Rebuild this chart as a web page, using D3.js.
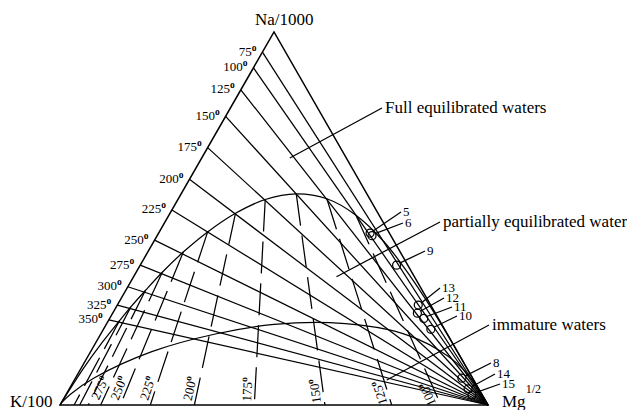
<!DOCTYPE html>
<html>
<head>
<meta charset="utf-8">
<script src="https://cdn.jsdelivr.net/npm/d3@7"></script>
<style>
  body { margin: 0; background: #fff; }
  svg { display: block; }
  text { font-family: "Liberation Serif", "Times New Roman", serif; fill: #000; }
</style>
</head>
<body>
<div id="chart"></div>
<script>
// Giggenbach Na-K-Mg ternary diagram. Coordinates are percentages of
// Na/1000 (top), K/100 (bottom left) and Mg^1/2 (bottom right); K = 100 - Na - Mg.

// Na-K isotherms: lines from the K-Na side to the Mg corner
const naKTemps = [75, 100, 125, 150, 175, 200, 225, 250, 275, 300, 325, 350];
const naKSideNa = [94.6, 90.4, 84.5, 77.4, 69.0, 60.5, 52.3, 44.2, 37.5, 31.7, 26.8, 22.8];

// full equilibrium curve, K corner to Mg corner (temperature where it meets the isotherms)
const fullEqTemps = [null, 500, 400, 350, 325, 300, 275, 250, 225, 200, 175, 150, 125, 100, 75, 50, 25, 0, null, null, null];
const fullEqNa = [0, 10.0, 16.9, 22.6, 26.3, 30.7, 35.6, 41.0, 46.4, 51.4, 55.1, 56.6, 55.3, 50.9, 43.7, 34.5, 24.7, 15.6, 7.7, 3.5, 0];
const fullEqMg = [0, 0.6, 1.5, 2.6, 3.4, 4.6, 6.1, 8.3, 11.3, 15.3, 20.4, 26.9, 34.7, 43.7, 53.9, 64.6, 75.1, 84.4, 92.3, 96.5, 100];

// immature waters boundary
const immatureNa = [0, 0.7, 2.9, 7.3, 14.3, 19.1, 21.6, 22.1, 20.2, 17.6, 14.7, 11.3, 7.2, 4.1, 0];
const immatureMg = [0, 0.1, 1.0, 4.4, 14.3, 27.0, 39.2, 51.9, 66.6, 74.9, 81.2, 87.0, 92.4, 95.8, 100];

// K-Mg isotherms: dashed, from the full equilibrium curve down to the K-Mg side
const kMgTemps = [100, 125, 150, 175, 200, 225, 250, 275, 300, 325, 350];
const kMgBaseMg = [89.0, 77.5, 61.9, 45.4, 31.4, 21.1, 14.1, 9.5, 6.6, 4.6, 3.3];
const kMgLabelled = [100, 125, 150, 175, 200, 225, 250, 275];

// water samples
const sampleIds = ["5", "6", "9", "13", "12", "11", "10", "8", "14", "15"];
const sampleNa = [46.1, 45.4, 37.5, 26.8, 24.6, 23.2, 20.3, 7.2, 4.3, 2.7];
const sampleMg = [49.4, 50.2, 59.9, 70.3, 71.2, 73.4, 76.5, 90.3, 93.2, 94.9];

// field annotations: where the leader starts (Na%, Mg%)
const fieldNames = ["Full equilibrated waters", "partially equilibrated water", "immature waters"];
const fieldNa = [66.2, 34.4, 6.7];
const fieldMg = [20.6, 47.4, 73.0];

// ---- layout ----
const W = 627, H = 410;
const sampleLabelPos = [[403, 216], [405, 227], [427, 255], [442, 292], [446, 302], [454, 311], [459, 320], [493, 367], [497, 378], [502, 388]];
const fieldLabelPos = [[385, 113], [443, 227], [492, 330]];

const svg = d3.select("#chart").append("svg")
  .attr("width", W)
  .attr("height", H);

const x = d3.scaleLinear().domain([0, 100]).range([60, 488]);
const y = d3.scaleLinear().domain([0, 100]).range([405, 32]);
const px = (na, mg) => x(mg + na / 2);
const py = na => y(na);

const line = d3.line().x(d => px(d[0], d[1])).y(d => py(d[0]));
const curve = d3.line().x(d => px(d[0], d[1])).y(d => py(d[0])).curve(d3.curveCatmullRom.alpha(0.5));

const ink = svg.append("g")
  .attr("fill", "none")
  .attr("stroke", "#000")
  .attr("stroke-width", 1.25);

// Na-K isotherms
ink.selectAll(".nak")
  .data(naKSideNa)
  .enter().append("path")
  .attr("d", d => line([[d, 0], [0, 100]]));

// K-Mg isotherms (dashed)
const fullEqAt = t => {
  const i = fullEqTemps.indexOf(t);
  return [fullEqNa[i], fullEqMg[i]];
};
ink.selectAll(".kmg")
  .data(kMgTemps)
  .enter().append("path")
  .attr("stroke-dasharray", "32,10")
  .attr("d", (t, i) => line([fullEqAt(t), [0, kMgBaseMg[i]]]));

// curves
ink.append("path")
  .attr("d", curve(fullEqNa.map((d, i) => [d, fullEqMg[i]])));
ink.append("path")
  .attr("d", curve(immatureNa.map((d, i) => [d, immatureMg[i]])));

// triangle frame
ink.append("path")
  .attr("stroke-width", 1.5)
  .attr("d", line([[0, 0], [100, 0], [0, 100], [0, 0]]) + "Z");

// samples
ink.selectAll("circle")
  .data(sampleNa)
  .enter().append("circle")
  .attr("r", 4)
  .attr("cx", (d, i) => px(d, sampleMg[i]))
  .attr("cy", d => py(d));

ink.selectAll(".lead")
  .data(sampleNa)
  .enter().append("line")
  .attr("x1", (d, i) => px(d, sampleMg[i]) + 3)
  .attr("y1", d => py(d) - 2)
  .attr("x2", (d, i) => sampleLabelPos[i][0] - 2)
  .attr("y2", (d, i) => sampleLabelPos[i][1] - 4);

svg.append("g").selectAll("text")
  .data(sampleIds)
  .enter().append("text")
  .attr("font-size", 13)
  .attr("x", (d, i) => sampleLabelPos[i][0])
  .attr("y", (d, i) => sampleLabelPos[i][1])
  .text(d => d);

// field annotations
ink.selectAll(".field")
  .data(fieldNa)
  .enter().append("line")
  .attr("x1", (d, i) => px(d, fieldMg[i]))
  .attr("y1", d => py(d))
  .attr("x2", (d, i) => fieldLabelPos[i][0] - 3)
  .attr("y2", (d, i) => fieldLabelPos[i][1] - 5);

svg.append("g").selectAll("text")
  .data(fieldNames)
  .enter().append("text")
  .attr("font-size", 17)
  .attr("x", (d, i) => fieldLabelPos[i][0])
  .attr("y", (d, i) => fieldLabelPos[i][1])
  .text(d => d);

// degree mark drawn as a small raised "o"
const degree = (sel, size, rise) => {
  sel.append("tspan").text(d => d);
  sel.append("tspan")
    .attr("font-size", size)
    .attr("font-weight", "bold")
    .attr("dy", -rise)
    .text("o");
};

// Na-K temperature labels on the left side
svg.append("g").selectAll("text")
  .data(naKTemps)
  .enter().append("text")
  .attr("font-size", 13)
  .attr("text-anchor", "end")
  .attr("x", (t, i) => px(naKSideNa[i], 0) - 6)
  .attr("y", (t, i) => py(naKSideNa[i]) + 3.5)
  .call(degree, 9.5, 5);

// K-Mg temperature labels along the base, written up the dashed lines
svg.append("g").selectAll("text")
  .data(kMgLabelled)
  .enter().append("text")
  .attr("font-size", 13)
  .attr("transform", t => {
    const i = kMgTemps.indexOf(t);
    const top = fullEqAt(t);
    const bx = px(0, kMgBaseMg[i]), by = py(0);
    const ang = Math.atan2(py(top[0]) - by, px(top[0], top[1]) - bx);
    const ox = bx + 3 * Math.cos(ang) + 3.5 * Math.sin(ang);
    const oy = by + 3 * Math.sin(ang) - 3.5 * Math.cos(ang);
    return `translate(${ox},${oy}) rotate(${ang * 180 / Math.PI})`;
  })
  .call(degree, 9.5, 5);

// corner labels
svg.append("text").attr("font-size", 17).attr("x", 255).attr("y", 25).text("Na/1000");
svg.append("text").attr("font-size", 17).attr("x", 10).attr("y", 407).text("K/100");
const mg = svg.append("text").attr("font-size", 17).attr("x", 502).attr("y", 407);
mg.append("tspan").text("Mg");
mg.append("tspan").attr("font-size", 12).attr("dy", -14).text("1/2");
</script>
</body>
</html>
